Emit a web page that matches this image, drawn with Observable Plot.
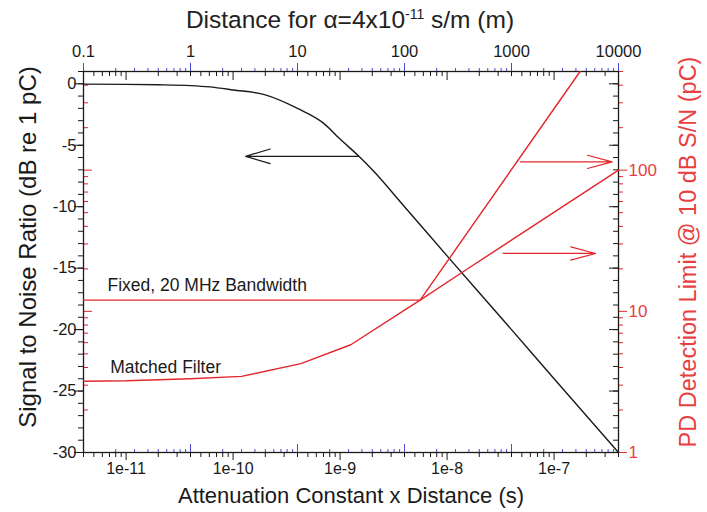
<!DOCTYPE html>
<html><head><meta charset="utf-8">
<script src="https://cdn.jsdelivr.net/npm/d3@7"></script>
<script src="https://cdn.jsdelivr.net/npm/@observablehq/plot@0.6"></script>
<style>
body{margin:0;background:#fff;font-family:"Liberation Sans",Arial,sans-serif;}
#wrap{position:relative;width:707px;height:512px;}
#title{position:absolute;left:0;width:700px;text-align:center;top:0px;font-size:24.5px;color:#222;line-height:28px;}
#title sup{font-size:14px;}
</style></head><body>
<div id="wrap"><div id="title">Distance for α=4x10<sup>-11</sup> s/m (m)</div></div>
<script>
// ---------- data ----------
const snrX  = [4e-12, 1e-11, 2e-11, 4e-11, 6e-11, 1e-10, 2e-10, 4e-10, 7e-10, 1e-9, 1.5e-9, 2e-9, 4e-9, 1e-8, 4e-8, 1e-7, 4e-7];
const snrDb = [-0.03, -0.05, -0.08, -0.15, -0.25, -0.5, -0.9, -2.0, -3.2, -4.5, -5.9, -7.0, -10.0, -14.0, -20.0, -24.0, -30.0];

const fixedX  = [4e-12, 5.6e-9, 1.75e-7];
const fixedPc = [12.0, 12.0, 500];

const matchedX  = [4e-12, 1e-11, 4e-11, 1.2e-10, 4.3e-10, 1.26e-9, 4.5e-9, 5.6e-9, 1.4e-8, 4e-7];
const matchedPc = [3.2, 3.22, 3.33, 3.46, 4.26, 5.8, 10.8, 12.0, 19, 100];

// arrows (black in dB, red in pC)
const snrArrow = [{x1: 1.49e-9, x2: 1.31e-10, db: -5.9}];
const pcArrows = [{x1: 4.85e-8, x2: 3.49e-7, pc: 114.5}, {x1: 3.34e-8, x2: 2.44e-7, pc: 25.7}];

const seriesLabels = [
  {text: "Fixed, 20 MHz Bandwidth", x: 6.7e-12, db: -16.4},
  {text: "Matched Filter", x: 7.1e-12, db: -23.1}
];

// tick values
const dbMajor = [0, -5, -10, -15, -20, -25, -30];
const dbMinor = d3.range(-30, 2, 1);
const pcMajor = [1, 10, 100];
const pcMinor = [2,3,4,5,6,7,8,9,20,30,40,50,60,70,80,90,200,300,400,500];
const xMajor = [1e-11, 1e-10, 1e-9, 1e-8, 1e-7];
const xMinor = [4e-12,5e-12,6e-12,7e-12,8e-12,9e-12,
  2e-11,3e-11,4e-11,5e-11,6e-11,7e-11,8e-11,9e-11,
  2e-10,3e-10,4e-10,5e-10,6e-10,7e-10,8e-10,9e-10,
  2e-9,3e-9,4e-9,5e-9,6e-9,7e-9,8e-9,9e-9,
  2e-8,3e-8,4e-8,5e-8,6e-8,7e-8,8e-8,9e-8,
  2e-7,3e-7,4e-7];
const distMajor = [0.1, 1, 10, 100, 1000, 10000];
const distMinor = [0.2,0.3,0.4,0.5,0.6,0.7,0.8,0.9, 2,3,4,5,6,7,8,9, 20,30,40,50,60,70,80,90,
  200,300,400,500,600,700,800,900, 2000,3000,4000,5000,6000,7000,8000,9000];
const alpha = 4e-11; // s/m
const distLabels = ["0.1", "1", "10", "100", "1000", "10000"];
const xLabels = ["1e-11", "1e-10", "1e-9", "1e-8", "1e-7"];
const pcLabels = ["1", "10", "100"];

// ---------- layout ----------
const W = 707, H = 512, ML = 83, MR = 89, MT = 71, MB = 60;
const FW = W - ML - MR, FH = H - MT - MB;
const PC_MAX = 500;
const yOfPc = pc => -30 + 31 * Math.log10(pc) / Math.log10(PC_MAX);
const RED = "#e3262c", RED_T = "#e8403f", INK = "#1a1a1a", BLUE = "#4a4ad8";

const snr = snrX.map((x, i) => ({x, y: snrDb[i]}));
const fixed = fixedX.map((x, i) => ({x, y: yOfPc(fixedPc[i])}));
const matched = matchedX.map((x, i) => ({x, y: yOfPc(matchedPc[i])}));
const redArrows = pcArrows.map(a => ({x1: a.x1, x2: a.x2, y: yOfPc(a.pc)}));
const xLab = xMajor.map((x, i) => ({x, t: xLabels[i]}));
const dLab = distMajor.map((d, i) => ({x: d * alpha, t: distLabels[i]}));
const pLab = pcMajor.map((p, i) => ({y: yOfPc(p), t: pcLabels[i]}));

const chart = Plot.plot({
  width: W, height: H,
  marginLeft: ML, marginRight: MR, marginTop: MT, marginBottom: MB,
  style: {fontFamily: "'Liberation Sans', Arial, sans-serif", background: "transparent", color: INK},
  x: {type: "log", domain: [4e-12, 4e-7], axis: null},
  y: {domain: [-30, 1], axis: null},
  marks: [
    // left axis: own black ticks outward, mirrored red ticks inward
    Plot.ruleY(dbMinor, {y: d => d, stroke: INK, insetLeft: -5, insetRight: FW}),
    Plot.ruleY(dbMajor, {y: d => d, stroke: INK, insetLeft: -9, insetRight: FW}),
    Plot.ruleY(pcMinor, {y: d => yOfPc(d), stroke: RED, insetLeft: 0, insetRight: FW - 5}),
    Plot.ruleY(pcMajor, {y: d => yOfPc(d), stroke: RED, insetLeft: 0, insetRight: FW - 9}),
    // right axis: own red ticks outward, mirrored black ticks inward
    Plot.ruleY(pcMinor, {y: d => yOfPc(d), stroke: RED, insetLeft: FW, insetRight: -5}),
    Plot.ruleY(pcMajor, {y: d => yOfPc(d), stroke: RED, insetLeft: FW, insetRight: -9}),
    Plot.ruleY(dbMinor, {y: d => d, stroke: INK, insetLeft: FW - 5, insetRight: 0}),
    Plot.ruleY(dbMajor, {y: d => d, stroke: INK, insetLeft: FW - 9, insetRight: 0}),
    // bottom axis: own black ticks outward, mirrored blue ticks inward
    Plot.ruleX(xMinor, {x: d => d, stroke: INK, insetTop: FH, insetBottom: -5}),
    Plot.ruleX(xMajor, {x: d => d, stroke: INK, insetTop: FH, insetBottom: -8}),
    Plot.ruleX(distMinor, {x: d => d * alpha, stroke: BLUE, insetTop: FH - 3, insetBottom: 0}),
    Plot.ruleX(distMajor, {x: d => d * alpha, stroke: BLUE, insetTop: FH - 8, insetBottom: 0}),
    // top axis: own blue ticks outward, mirrored black ticks inward
    Plot.ruleX(distMinor, {x: d => d * alpha, stroke: BLUE, insetTop: -3, insetBottom: FH}),
    Plot.ruleX(distMajor, {x: d => d * alpha, stroke: BLUE, insetTop: -8, insetBottom: FH}),
    Plot.ruleX(xMinor, {x: d => d, stroke: INK, insetTop: 0, insetBottom: FH - 5}),
    Plot.ruleX(xMajor, {x: d => d, stroke: INK, insetTop: 0, insetBottom: FH - 9}),
    Plot.frame({stroke: INK, strokeWidth: 1.3}),

    // tick labels
    Plot.axisY(dbMajor, {anchor: "left", tickSize: 0, tickPadding: 7, fontSize: 16.5, label: null, tickFormat: d => String(d), fill: INK}),
    Plot.text(pLab, {y: "y", text: "t", frameAnchor: "right", dx: 10, textAnchor: "start", fontSize: 17, fill: RED_T}),
    Plot.text(xLab, {x: "x", text: "t", frameAnchor: "bottom", dy: 16, textAnchor: "middle", lineAnchor: "middle", fontSize: 16, fill: INK}),
    Plot.text(dLab, {x: "x", text: "t", frameAnchor: "top", dy: -20, textAnchor: "middle", lineAnchor: "middle", fontSize: 16.5, fill: INK}),

    // axis titles
    Plot.text(["Signal to Noise Ratio (dB re 1 pC)"], {frameAnchor: "left", dx: -55, dy: -15, rotate: -90, textAnchor: "middle", lineAnchor: "middle", fontSize: 24, fill: INK, text: d => d}),
    Plot.text(["PD Detection Limit @ 10 dB S/N (pC)"], {frameAnchor: "right", dx: 70, dy: -10, rotate: -90, textAnchor: "middle", lineAnchor: "middle", fontSize: 23.5, fill: RED_T, text: d => d}),
    Plot.text(["Attenuation Constant x Distance (s)"], {frameAnchor: "bottom", dy: 43, textAnchor: "middle", lineAnchor: "middle", fontSize: 22, fill: INK, text: d => d}),

    // series
    Plot.line(snr, {x: "x", y: "y", stroke: INK, strokeWidth: 1.4, curve: "monotone-x"}),
    Plot.line(fixed, {x: "x", y: "y", stroke: RED, strokeWidth: 1.4}),
    Plot.line(matched, {x: "x", y: "y", stroke: RED, strokeWidth: 1.4}),

    // arrows
    Plot.arrow(snrArrow, {x1: "x1", x2: "x2", y1: "db", y2: "db", stroke: INK, strokeWidth: 1.2, headLength: 32, headAngle: 33}),
    Plot.arrow(redArrows, {x1: "x1", x2: "x2", y1: "y", y2: "y", stroke: RED, strokeWidth: 1.2, headLength: 32, headAngle: 30}),

    // series labels
    Plot.text(seriesLabels, {x: "x", y: "db", text: "text", textAnchor: "start", fontSize: 17.5, fill: INK})
  ]
});
document.getElementById("wrap").prepend(chart);
</script>
</body></html>
